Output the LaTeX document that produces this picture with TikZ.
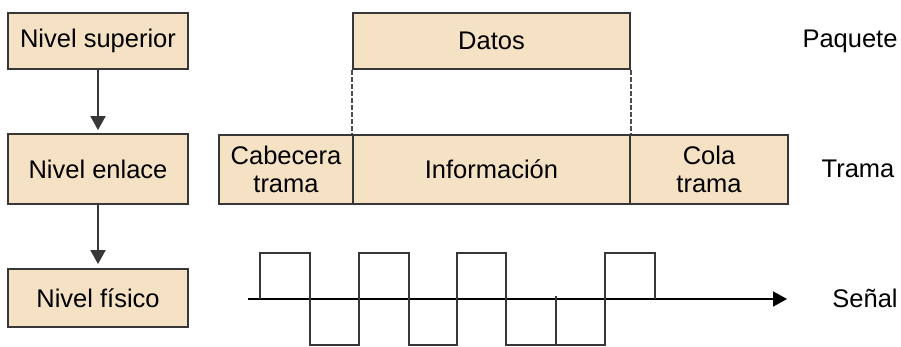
\documentclass[tikz,border=0pt]{standalone}
\usepackage{fontspec}
\setmainfont{Liberation Sans}
\usetikzlibrary{arrows.meta}
\definecolor{caja}{RGB}{245,225,195}
\definecolor{borde}{RGB}{55,55,55}

\begin{document}
\begin{tikzpicture}[x=1pt,y=-1pt,
        nivel/.style={draw=borde,line width=1.8pt,fill=caja,minimum width=180pt,minimum height=56pt,inner sep=0pt,font=\fontsize{25.5}{28}\selectfont},
        campo/.style={draw=borde,line width=1.8pt,fill=caja,minimum height=69pt,inner sep=0pt,align=center,font=\fontsize{25.5}{28}\selectfont},
        rotulo/.style={font=\fontsize{25.5}{28}\selectfont},
        flecha/.style={-{Triangle[length=14pt,width=15pt]},line width=1.8pt,draw=borde}]
                \useasboundingbox (0,0) rectangle (901,347);
                \node[nivel] (superior) at (98,41) {Nivel superior};
                \node[nivel,minimum height=70pt] (enlace) at (98,169) {Nivel enlace};
                \node[nivel,minimum height=58pt] (fisico) at (98,298) {Nivel f\'isico};
                \draw[flecha,fill=black] (superior.south) -- ([yshift=3pt]enlace.north);
                \draw[flecha,fill=black] (enlace.south) -- ([yshift=4pt]fisico.north);
                \node[campo,minimum width=277pt,minimum height=56pt] (datos) at (491.5,41) {Datos};
                \node[campo,minimum width=134pt] (cabecera) at (286,169.5) {Cabecera\\trama};
                \node[campo,minimum width=277pt] (info) at (491.5,169.5) {Informaci\'on};
                \node[campo,minimum width=158pt] (cola) at (709,169.5) {Cola\\trama};
                \draw[dash pattern=on 5pt off 2pt,draw=gray!60!black,line width=1.5pt] (datos.south west) -- (info.north west);
                \draw[dash pattern=on 5pt off 2pt,draw=gray!60!black,line width=1.5pt] (datos.south east) -- (info.north east);
                \node[rotulo] (paquete) at (850,41) {Paquete};
                \node[rotulo] (trama) at (858,169) {Trama};
                \node[rotulo] (senal) at (865,298) {Se\~nal};
                \coordinate (inicio) at (248,299);
                \coordinate (fin) at (787,299);
                \draw[flecha,draw=black] (inicio) -- (fin);
                \draw[line width=1.8pt,draw=borde] (260,299) -- (260,253) -- (310,253) -- (310,345) -- (359,345) -- (359,253) -- (409,253)
                    -- (409,345) -- (457,345) -- (457,253) -- (506,253) -- (506,345) -- (556,345) -- (605,345)
                    -- (605,253) -- (655,253) -- (655,299);
                \draw[line width=1.8pt,draw=borde] (556,296) -- (556,345);
            \end{tikzpicture}
\end{document}
